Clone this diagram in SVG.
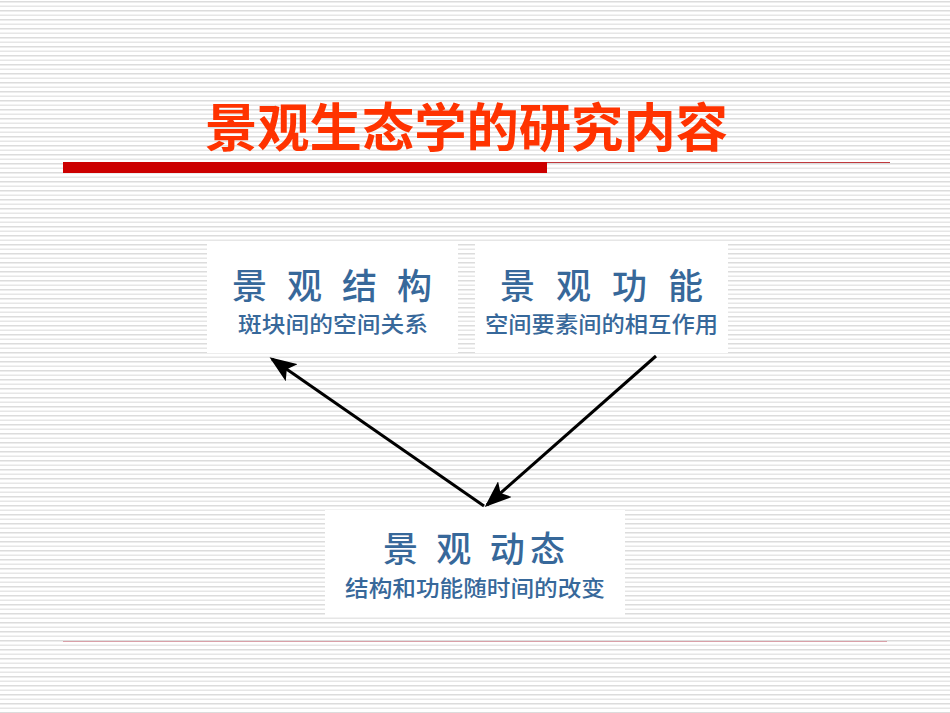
<svg xmlns="http://www.w3.org/2000/svg" width="950" height="713" viewBox="0 0 950 713">
<defs>
<pattern id="stripes" x="0" y="0" width="9" height="9" patternUnits="userSpaceOnUse">
<rect x="0" y="0" width="9" height="9" fill="#ffffff"/>
<rect x="0" y="1" width="9" height="1.5" fill="#dcdcdc"/>
<rect x="0" y="5.5" width="9" height="1.5" fill="#e6e6e6"/>
</pattern>
<marker id="arrow" markerWidth="9" markerHeight="7" refX="8" refY="3.5" orient="auto" markerUnits="strokeWidth">
<path d="M0,0 L9,3.5 L0,7 L2,3.5 Z" fill="#000"/>
</marker>
<style>
.box{fill:#ffffff;stroke:none}
.head{font-family:"Noto Sans CJK SC","Noto Sans CJK TC",sans-serif;font-size:35px;font-weight:500;fill:#37689a}
.sub{font-family:"Noto Sans CJK SC","Noto Sans CJK TC",sans-serif;font-size:22px;font-weight:500;fill:#37689a}
.conn{stroke:#000;stroke-width:3;fill:none;marker-end:url(#arrow)}
</style>
</defs>
<rect width="950" height="713" fill="url(#stripes)"/>
<g id="title">
<text x="205" y="147" textLength="523" lengthAdjust="spacingAndGlyphs" font-family="'Noto Sans CJK SC','Noto Sans CJK TC',sans-serif" font-size="52" font-weight="bold" fill="#ff3300">景观生态学的研究内容</text>
<rect x="63" y="162" width="484" height="11" fill="#cc0000"/>
<line x1="547" y1="162.5" x2="890" y2="162.5" stroke="#c0393d" stroke-width="1"/>
</g>
<g id="bottom-rule"><line x1="63" y1="641.5" x2="887" y2="641.5" stroke="#d9a0a8" stroke-width="1"/></g>
<g id="connectors">
<line class="conn" x1="484" y1="506" x2="272" y2="359"/>
<line class="conn" x1="656" y1="356" x2="487" y2="505"/>
</g>
<g id="node-structure">
<rect class="box" x="207" y="243" width="251" height="110"/>
<text class="head" x="232" y="299" textLength="200" lengthAdjust="spacing" xml:space="preserve">景 观 结 构</text>
<text class="sub" x="238" y="332" textLength="190" lengthAdjust="spacingAndGlyphs">斑块间的空间关系</text>
</g>
<g id="node-function">
<rect class="box" x="475" y="243" width="253" height="110"/>
<text class="head" x="500" y="299" textLength="203" lengthAdjust="spacing" xml:space="preserve">景 观 功 能</text>
<text class="sub" x="485" y="332" textLength="233" lengthAdjust="spacingAndGlyphs">空间要素间的相互作用</text>
</g>
<g id="node-dynamics">
<rect class="box" x="325" y="510" width="300" height="107"/>
<text class="head" x="383" y="562" textLength="182" lengthAdjust="spacing" xml:space="preserve">景 观 动态</text>
<text class="sub" x="345" y="596" textLength="260" lengthAdjust="spacingAndGlyphs">结构和功能随时间的改变</text>
</g>
</svg>
